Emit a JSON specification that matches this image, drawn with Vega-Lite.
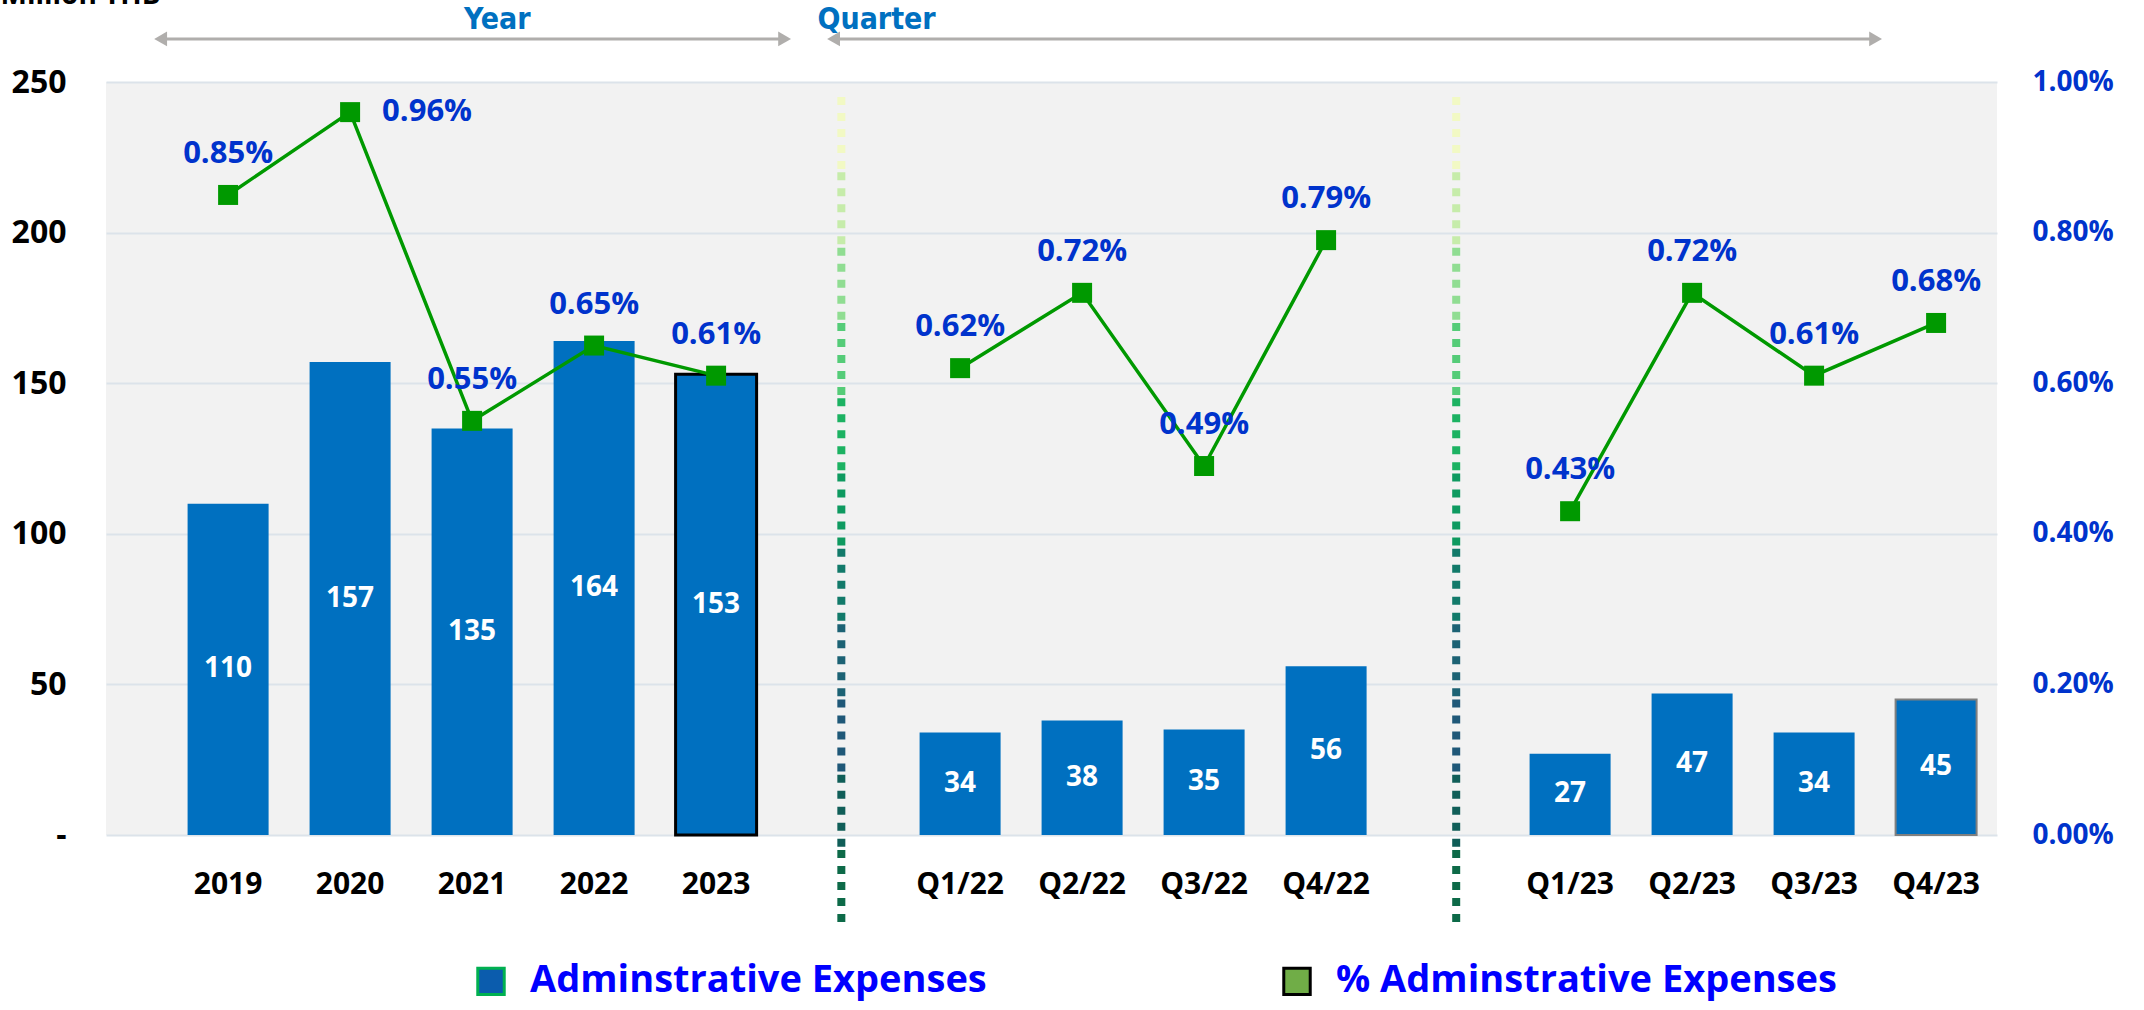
{
  "$schema": "https://vega.github.io/schema/vega-lite/v6.json",
  "width": 1891,
  "height": 753,
  "autosize": {"type": "none"},
  "padding": {"left": 106, "top": 82, "right": 147, "bottom": 175},
  "background": "white",
  "config": {
    "view": {"fill": "#F2F2F2", "stroke": null},
    "font": "Open Sans",
    "axisX": {
      "labelAngle": 0,
      "labelFontSize": 30,
      "labelFontWeight": "bold",
      "labelColor": "#000000",
      "labelPadding": 34,
      "ticks": false,
      "domain": false,
      "grid": false
    }
  },
  "datasets": {
    "main": [
      {"cat": "2019", "value": 110, "pct": 0.0085, "grp": "Y"},
      {"cat": "2020", "value": 157, "pct": 0.0096, "grp": "Y"},
      {"cat": "2021", "value": 135, "pct": 0.0055, "grp": "Y"},
      {"cat": "2022", "value": 164, "pct": 0.0065, "grp": "Y"},
      {"cat": "2023", "value": 153, "pct": 0.0061, "grp": "Y"},
      {"cat": "Q1/22", "value": 34, "pct": 0.0062, "grp": "Q22"},
      {"cat": "Q2/22", "value": 38, "pct": 0.0072, "grp": "Q22"},
      {"cat": "Q3/22", "value": 35, "pct": 0.0049, "grp": "Q22"},
      {"cat": "Q4/22", "value": 56, "pct": 0.0079, "grp": "Q22"},
      {"cat": "Q1/23", "value": 27, "pct": 0.0043, "grp": "Q23"},
      {"cat": "Q2/23", "value": 47, "pct": 0.0072, "grp": "Q23"},
      {"cat": "Q3/23", "value": 34, "pct": 0.0061, "grp": "Q23"},
      {"cat": "Q4/23", "value": 45, "pct": 0.0068, "grp": "Q23"}
    ],
    "dividers": [
      {"cat": " ", "top": 245, "bottom": 220, "seg": 0},
      {"cat": " ", "top": 220, "bottom": 195, "seg": 1},
      {"cat": " ", "top": 195, "bottom": 170, "seg": 2},
      {"cat": " ", "top": 170, "bottom": 145, "seg": 3},
      {"cat": " ", "top": 145, "bottom": 120, "seg": 4},
      {"cat": " ", "top": 120, "bottom": 95, "seg": 5},
      {"cat": " ", "top": 95, "bottom": 70, "seg": 6},
      {"cat": " ", "top": 70, "bottom": 45, "seg": 7},
      {"cat": " ", "top": 45, "bottom": 20, "seg": 8},
      {"cat": " ", "top": 20, "bottom": -5, "seg": 9},
      {"cat": " ", "top": -5, "bottom": -30, "seg": 10},
      {"cat": "  ", "top": 245, "bottom": 220, "seg": 0},
      {"cat": "  ", "top": 220, "bottom": 195, "seg": 1},
      {"cat": "  ", "top": 195, "bottom": 170, "seg": 2},
      {"cat": "  ", "top": 170, "bottom": 145, "seg": 3},
      {"cat": "  ", "top": 145, "bottom": 120, "seg": 4},
      {"cat": "  ", "top": 120, "bottom": 95, "seg": 5},
      {"cat": "  ", "top": 95, "bottom": 70, "seg": 6},
      {"cat": "  ", "top": 70, "bottom": 45, "seg": 7},
      {"cat": "  ", "top": 45, "bottom": 20, "seg": 8},
      {"cat": "  ", "top": 20, "bottom": -5, "seg": 9},
      {"cat": "  ", "top": -5, "bottom": -30, "seg": 10}
    ],
    "annotations": [
      {"label": "Year", "from": "2019", "to": "2023", "mid": "2021"},
      {"label": "Quarter", "from": " ", "to": "Q4/23", "mid": " "}
    ],
    "legend": [
      {"series": "Adminstrative Expenses"},
      {"series": "% Adminstrative Expenses"}
    ]
  },
  "data": {"name": "main"},
  "encoding": {
    "x": {
      "field": "cat",
      "type": "nominal",
      "sort": null,
      "scale": {
        "type": "band",
        "domain": ["2019", "2020", "2021", "2022", "2023", " ", "Q1/22", "Q2/22", "Q3/22", "Q4/22", "  ", "Q1/23", "Q2/23", "Q3/23", "Q4/23"],
        "paddingInner": 0.336,
        "paddingOuter": 0.418,
        "align": 0.8
      },
      "axis": {"title": null}
    }
  },
  "layer": [
    {
      "data": {"name": "dividers"},
      "transform": [{"filter": "datum.cat === ' '"}],
      "mark": {"type": "rule", "strokeWidth": 8, "strokeDash": [8, 8], "strokeCap": "butt"},
      "encoding": {
        "x": {"field": "cat", "type": "nominal", "bandPosition": 0.54, "axis": {"title": null}},
        "y": {"field": "top", "type": "quantitative", "scale": {"domain": [0, 250], "nice": false}, "axis": null},
        "y2": {"field": "bottom"},
        "color": {
          "field": "seg",
          "type": "ordinal",
          "scale": {"range": ["#F2F9C4", "#C6ECAA", "#90DD92", "#55CC78", "#1CB262", "#0E9A60", "#127A6A", "#1C6274", "#1F5878", "#105E58", "#0D6A48"]},
          "legend": null
        }
      }
    },
    {
      "data": {"name": "dividers"},
      "transform": [{"filter": "datum.cat === '  '"}],
      "mark": {"type": "rule", "strokeWidth": 8, "strokeDash": [8, 8], "strokeCap": "butt"},
      "encoding": {
        "x": {"field": "cat", "type": "nominal", "bandPosition": 0.6, "axis": {"title": null}},
        "y": {"field": "top", "type": "quantitative", "scale": {"domain": [0, 250], "nice": false}, "axis": null},
        "y2": {"field": "bottom"},
        "color": {
          "field": "seg",
          "type": "ordinal",
          "scale": {"range": ["#F2F9C4", "#C6ECAA", "#90DD92", "#55CC78", "#1CB262", "#0E9A60", "#127A6A", "#1C6274", "#1F5878", "#105E58", "#0D6A48"]},
          "legend": null
        }
      }
    },
    {
      "mark": {"type": "bar", "color": "#0070C0"},
      "encoding": {
        "y": {
          "field": "value",
          "type": "quantitative",
          "scale": {"domain": [0, 250], "nice": false},
          "axis": {
            "values": [0, 50, 100, 150, 200, 250],
            "labelExpr": "datum.value === 0 ? '-' : datum.label",
            "labelFontSize": 32,
            "labelFontWeight": "bold",
            "labelColor": "#000000",
            "labelPadding": 40,
            "ticks": false,
            "domain": false,
            "grid": true,
            "gridColor": "#DCE3EA",
            "gridWidth": 2,
            "title": "Million THB",
            "titleAngle": 0,
            "titleAlign": "left",
            "titleBaseline": "alphabetic",
            "titleX": -106,
            "titleY": -79,
            "titleFontSize": 28,
            "titleFontWeight": "bold",
            "titleColor": "#000000"
          }
        },
        "stroke": {
          "condition": [
            {"test": "datum.cat === '2023'", "value": "#000000"},
            {"test": "datum.cat === 'Q4/23'", "value": "#7F7F7F"}
          ],
          "value": "#0070C0"
        },
        "strokeWidth": {
          "condition": [
            {"test": "datum.cat === '2023'", "value": 3},
            {"test": "datum.cat === 'Q4/23'", "value": 2}
          ],
          "value": 0
        }
      }
    },
    {
      "mark": {"type": "text", "color": "#FFFFFF", "fontSize": 28, "fontWeight": "bold", "baseline": "middle"},
      "encoding": {
        "y": {"field": "value", "type": "quantitative", "scale": {"domain": [0, 500], "nice": false}, "axis": null},
        "text": {"field": "value", "type": "quantitative"}
      }
    },
    {
      "mark": {"type": "line", "color": "#009900", "strokeWidth": 3.5},
      "encoding": {
        "y": {
          "field": "pct",
          "type": "quantitative",
          "scale": {"domain": [0, 0.01], "nice": false},
          "axis": {
            "orient": "right",
            "values": [0, 0.002, 0.004, 0.006, 0.008, 0.01],
            "format": ".2%",
            "labelFontSize": 28,
            "labelFontWeight": "bold",
            "labelColor": "#0033CC",
            "labelPadding": 35,
            "ticks": false,
            "domain": false,
            "grid": false,
            "title": null
          }
        },
        "detail": {"field": "grp", "type": "nominal"}
      }
    },
    {
      "mark": {"type": "point", "shape": "square", "filled": true, "size": 400, "color": "#009900", "opacity": 1},
      "encoding": {
        "y": {"field": "pct", "type": "quantitative", "scale": {"domain": [0, 0.01], "nice": false}, "axis": null}
      }
    },
    {
      "transform": [{"filter": "datum.cat !== '2020'"}],
      "mark": {"type": "text", "color": "#0033CC", "fontSize": 31, "fontWeight": "bold", "baseline": "middle", "dy": -41},
      "encoding": {
        "y": {"field": "pct", "type": "quantitative", "scale": {"domain": [0, 0.01], "nice": false}, "axis": null},
        "text": {"field": "pct", "type": "quantitative", "format": ".2%"}
      }
    },
    {
      "transform": [{"filter": "datum.cat === '2020'"}],
      "mark": {"type": "text", "color": "#0033CC", "fontSize": 31, "fontWeight": "bold", "baseline": "middle", "align": "left", "dx": 32},
      "encoding": {
        "y": {"field": "pct", "type": "quantitative", "scale": {"domain": [0, 0.01], "nice": false}, "axis": null},
        "text": {"field": "pct", "type": "quantitative", "format": ".2%"}
      }
    },
    {
      "data": {"name": "annotations"},
      "transform": [{"filter": "datum.label === 'Year'"}],
      "mark": {"type": "rule", "color": "#B0AEAC", "strokeWidth": 3},
      "encoding": {
        "x": {"field": "from", "type": "nominal", "bandPosition": -0.333, "axis": {"title": null}},
        "x2": {"field": "to", "bandPosition": 1.346},
        "y": {"datum": 264.3, "type": "quantitative", "scale": {"domain": [0, 250], "nice": false}, "axis": null}
      }
    },
    {
      "data": {"name": "annotations"},
      "transform": [{"filter": "datum.label === 'Quarter'"}],
      "mark": {"type": "rule", "color": "#B0AEAC", "strokeWidth": 3},
      "encoding": {
        "x": {"field": "from", "type": "nominal", "bandPosition": 0.444, "axis": {"title": null}},
        "x2": {"field": "to", "bandPosition": -0.247},
        "y": {"datum": 264.3, "type": "quantitative", "scale": {"domain": [0, 250], "nice": false}, "axis": null}
      }
    },
    {
      "data": {"name": "annotations"},
      "transform": [{"filter": "datum.label === 'Year'"}],
      "mark": {"type": "point", "shape": "triangle-left", "filled": true, "size": 220, "color": "#B0AEAC", "opacity": 1},
      "encoding": {
        "x": {"field": "from", "type": "nominal", "bandPosition": -0.333, "axis": {"title": null}},
        "y": {"datum": 264.3, "type": "quantitative", "scale": {"domain": [0, 250], "nice": false}, "axis": null}
      }
    },
    {
      "data": {"name": "annotations"},
      "transform": [{"filter": "datum.label === 'Year'"}],
      "mark": {"type": "point", "shape": "triangle-right", "filled": true, "size": 220, "color": "#B0AEAC", "opacity": 1},
      "encoding": {
        "x": {"field": "to", "type": "nominal", "bandPosition": 1.346, "axis": {"title": null}},
        "y": {"datum": 264.3, "type": "quantitative", "scale": {"domain": [0, 250], "nice": false}, "axis": null}
      }
    },
    {
      "data": {"name": "annotations"},
      "transform": [{"filter": "datum.label === 'Quarter'"}],
      "mark": {"type": "point", "shape": "triangle-left", "filled": true, "size": 220, "color": "#B0AEAC", "opacity": 1},
      "encoding": {
        "x": {"field": "from", "type": "nominal", "bandPosition": 0.444, "axis": {"title": null}},
        "y": {"datum": 264.3, "type": "quantitative", "scale": {"domain": [0, 250], "nice": false}, "axis": null}
      }
    },
    {
      "data": {"name": "annotations"},
      "transform": [{"filter": "datum.label === 'Quarter'"}],
      "mark": {"type": "point", "shape": "triangle-right", "filled": true, "size": 220, "color": "#B0AEAC", "opacity": 1},
      "encoding": {
        "x": {"field": "to", "type": "nominal", "bandPosition": -0.247, "axis": {"title": null}},
        "y": {"datum": 264.3, "type": "quantitative", "scale": {"domain": [0, 250], "nice": false}, "axis": null}
      }
    },
    {
      "data": {"name": "annotations"},
      "transform": [{"filter": "datum.label === 'Year'"}],
      "mark": {"type": "text", "color": "#0070C0", "font": "DejaVu Sans Condensed", "fontSize": 30, "fontWeight": "bold", "baseline": "middle", "align": "center"},
      "encoding": {
        "x": {"field": "mid", "type": "nominal", "bandPosition": 0.81, "axis": {"title": null}},
        "y": {"datum": 270.6, "type": "quantitative", "scale": {"domain": [0, 250], "nice": false}, "axis": null},
        "text": {"field": "label"}
      }
    },
    {
      "data": {"name": "annotations"},
      "transform": [{"filter": "datum.label === 'Quarter'"}],
      "mark": {"type": "text", "color": "#0070C0", "font": "DejaVu Sans Condensed", "fontSize": 30, "fontWeight": "bold", "baseline": "middle", "align": "center"},
      "encoding": {
        "x": {"field": "mid", "type": "nominal", "bandPosition": 0.975, "axis": {"title": null}},
        "y": {"datum": 270.6, "type": "quantitative", "scale": {"domain": [0, 250], "nice": false}, "axis": null},
        "text": {"field": "label"}
      }
    },
    {
      "data": {"name": "legend"},
      "mark": {"type": "point", "shape": "square", "filled": true, "opacity": 0},
      "encoding": {
        "x": {"datum": "2019", "type": "nominal", "axis": {"title": null}},
        "y": {"datum": 0, "type": "quantitative", "scale": {"domain": [0, 250], "nice": false}, "axis": null},
        "fill": {
          "field": "series",
          "type": "nominal",
          "scale": {"domain": ["Adminstrative Expenses", "% Adminstrative Expenses"], "range": ["#0B5CAD", "#70AD47"]},
          "legend": {
            "title": null, "orient": "none", "legendX": 366, "legendY": 880, "direction": "horizontal",
            "symbolType": "square", "symbolSize": 700, "symbolStrokeWidth": 3, "symbolOpacity": 1,
            "labelFontSize": 38, "labelFont": "Open Sans", "labelFontWeight": "bold", "labelColor": "#0000FF",
            "labelLimit": 1000, "labelOffset": 20, "columnPadding": 290
          }
        },
        "stroke": {
          "field": "series",
          "type": "nominal",
          "scale": {"domain": ["Adminstrative Expenses", "% Adminstrative Expenses"], "range": ["#00B050", "#000000"]},
          "legend": {
            "title": null, "orient": "none", "legendX": 366, "legendY": 880, "direction": "horizontal",
            "symbolType": "square", "symbolSize": 700, "symbolStrokeWidth": 3, "symbolOpacity": 1,
            "labelFontSize": 38, "labelFont": "Open Sans", "labelFontWeight": "bold", "labelColor": "#0000FF",
            "labelLimit": 1000, "labelOffset": 20, "columnPadding": 290
          }
        }
      }
    }
  ],
  "resolve": {"scale": {"y": "independent"}}
}
